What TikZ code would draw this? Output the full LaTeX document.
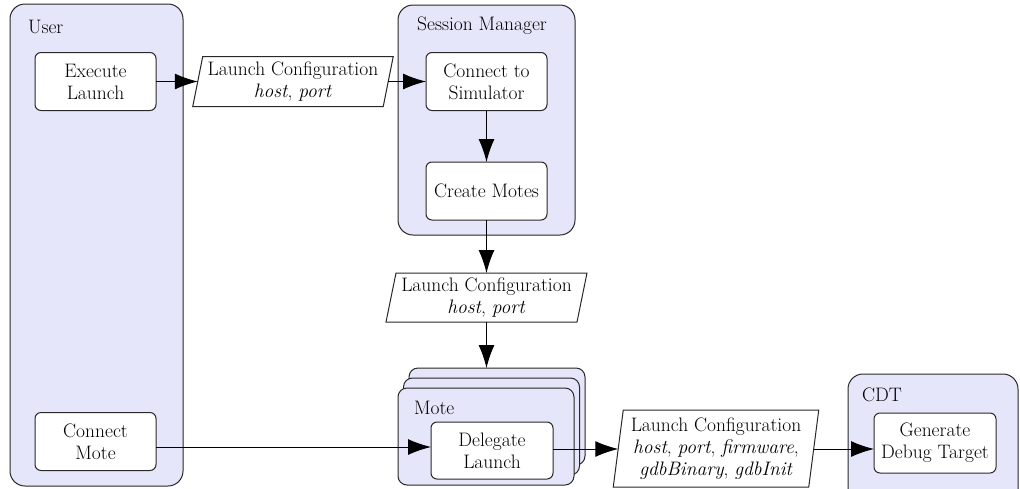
\documentclass[tikz,border=0pt]{standalone}
\usepackage{fontspec}
\usetikzlibrary{arrows.meta,backgrounds}
\definecolor{groupfill}{RGB}{230,230,250}
\definecolor{edgecol}{RGB}{40,40,40}
\begin{document}
\begin{tikzpicture}[x=1pt,y=-1pt,
  every node/.style={font=\fontsize{19.5}{22}\selectfont, inner sep=0pt, outer sep=0pt},
  group/.style={draw=edgecol, fill=groupfill, line width=1pt, rounded corners=15pt},
  mote/.style={draw=edgecol, fill=groupfill, line width=1pt, rounded corners=9pt,
    minimum width=176pt, minimum height=97pt},
  task/.style={draw=edgecol, fill=white, line width=1pt, rounded corners=6pt,
    align=center, minimum width=121pt, minimum height=58pt},
  datatext/.style={align=center},
  databox/.style={draw=edgecol, fill=white, line width=1pt},
  flow/.style={draw=black, line width=1pt, -{Latex[length=23pt,width=16pt]}},
]
\useasboundingbox (0,0) rectangle (1020,488);

% swimlane containers
\node[group, minimum width=173pt, minimum height=482pt] (user) at (96.5,245) {};
\node[group, minimum width=177pt, minimum height=230pt] (sm) at (486.5,120) {};
\node[group, minimum width=170pt, minimum height=140pt] (cdt) at (933,444) {};

% stacked mote instances
\node[mote] (moteback) at (497,416.5) {};
\node[mote] (motemid) at (491.5,426.5) {};
\node[mote] (mote) at (486,436.5) {};

% container titles
\node[anchor=west] (userlbl) at (28,27) {User};
\node (smlbl) at (482,26) {Session Manager};
\node[anchor=west] (cdtlbl) at (862,395) {CDT};
\node[anchor=west] (motelbl) at (414,408) {Mote};

% tasks
\node[task] (exec) at (95.5,81.5) {Execute\\Launch};
\node[task] (conmote) at (95.5,441.5) {Connect\\Mote};
\node[task] (consim) at (486.5,81.5) {Connect to\\Simulator};
\node[task] (create) at (486.5,191) {Create Motes};
\node[task, minimum width=122pt, minimum height=57pt] (deleg) at (492,450.5) {Delegate\\Launch};
\node[task, minimum width=122pt, minimum height=60pt] (gen) at (935,443) {Generate\\Debug Target};

% data objects (parallelograms)
\node[datatext, minimum width=190.5pt, minimum height=50pt] (cfg1) at (293,81.5)
  {Launch Configuration\\\textit{host}, \textit{port}};
\node[datatext, minimum width=191pt, minimum height=49pt] (cfg2) at (486.5,297.5)
  {Launch Configuration\\\textit{host}, \textit{port}};
\node[datatext, minimum width=195.5pt, minimum height=77pt] (cfg3) at (716,448.5)
  {Launch Configuration\\\textit{host}, \textit{port}, \textit{firmware},\\\textit{gdbBinary}, \textit{gdbInit}};

\begin{scope}[on background layer]
  \foreach \c in {cfg1,cfg2,cfg3}{
    \draw[databox] ([xshift=5pt]\c.north west) -- ([xshift=5pt]\c.north east)
      -- ([xshift=-5pt]\c.south east) -- ([xshift=-5pt]\c.south west) -- cycle;
  }
\end{scope}

% connectors
\coordinate (rowa) at (0,447);
\coordinate (rowb) at (0,449);
\draw[flow] (exec) -- (cfg1);
\draw[flow] (cfg1) -- (consim);
\draw[flow] (consim) -- (create);
\draw[flow] (create) -- (cfg2);
\draw[flow] (cfg2.south) -- (cfg2.south |- moteback.north);
\draw[flow] (conmote.east |- rowa) -- (deleg.west |- rowa);
\draw[flow] (deleg.east |- rowb) -- (cfg3.west |- rowb);
\draw[flow] (cfg3.east |- rowb) -- (gen.west |- rowb);
\end{tikzpicture}
\end{document}
